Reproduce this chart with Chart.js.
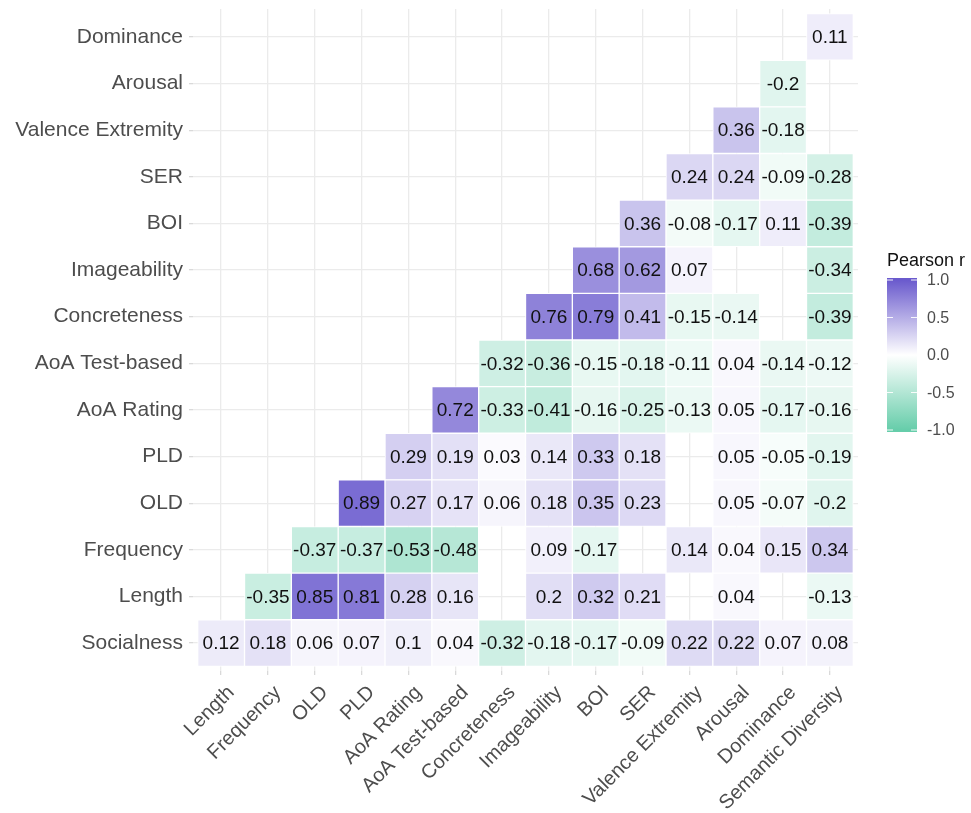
<!DOCTYPE html>
<html>
<head>
<meta charset="utf-8">
<script src="https://cdn.jsdelivr.net/npm/chart.js@4.4.0/dist/chart.umd.min.js"></script>
<style>
  html, body { margin: 0; padding: 0; background: #fff; }
</style>
</head>
<body>
<canvas id="corrChart" width="971" height="813"></canvas>
<script>
// ---- labels ----
const colLabels = ['Length', 'Frequency', 'OLD', 'PLD', 'AoA Rating', 'AoA Test-based', 'Concreteness',
  'Imageability', 'BOI', 'SER', 'Valence Extremity', 'Arousal', 'Dominance', 'Semantic Diversity'];
// bottom to top
const rowLabels = ['Socialness', 'Length', 'Frequency', 'OLD', 'PLD', 'AoA Rating', 'AoA Test-based',
  'Concreteness', 'Imageability', 'BOI', 'SER', 'Valence Extremity', 'Arousal', 'Dominance'];

// ---- correlations, one row each (null = blank cell) ----
const socialness   = [0.12, 0.18, 0.06, 0.07, 0.1, 0.04, -0.32, -0.18, -0.17, -0.09, 0.22, 0.22, 0.07, 0.08];
const lengthRow    = [null, -0.35, 0.85, 0.81, 0.28, 0.16, null, 0.2, 0.32, 0.21, null, 0.04, null, -0.13];
const frequency    = [null, null, -0.37, -0.37, -0.53, -0.48, null, 0.09, -0.17, null, 0.14, 0.04, 0.15, 0.34];
const old          = [null, null, null, 0.89, 0.27, 0.17, 0.06, 0.18, 0.35, 0.23, null, 0.05, -0.07, -0.2];
const pld          = [null, null, null, null, 0.29, 0.19, 0.03, 0.14, 0.33, 0.18, null, 0.05, -0.05, -0.19];
const aoaRating    = [null, null, null, null, null, 0.72, -0.33, -0.41, -0.16, -0.25, -0.13, 0.05, -0.17, -0.16];
const aoaTest      = [null, null, null, null, null, null, -0.32, -0.36, -0.15, -0.18, -0.11, 0.04, -0.14, -0.12];
const concreteness = [null, null, null, null, null, null, null, 0.76, 0.79, 0.41, -0.15, -0.14, null, -0.39];
const imageability = [null, null, null, null, null, null, null, null, 0.68, 0.62, 0.07, null, null, -0.34];
const boi          = [null, null, null, null, null, null, null, null, null, 0.36, -0.08, -0.17, 0.11, -0.39];
const ser          = [null, null, null, null, null, null, null, null, null, null, 0.24, 0.24, -0.09, -0.28];
const valence      = [null, null, null, null, null, null, null, null, null, null, null, 0.36, -0.18, null];
const arousal      = [null, null, null, null, null, null, null, null, null, null, null, null, -0.2, null];
const dominance    = [null, null, null, null, null, null, null, null, null, null, null, null, null, 0.11];

const rows = [socialness, lengthRow, frequency, old, pld, aoaRating, aoaTest,
  concreteness, imageability, boi, ser, valence, arousal, dominance];

const legendTicks = [1.0, 0.5, 0.0, -0.5, -1.0];

// ---- colours (white mid, slateblue high, aquamarine low) ----
const HIGH = [106, 90, 205];
const LOW = [102, 205, 170];
function fillFor(v) {
  const end = v >= 0 ? HIGH : LOW;
  const t = Math.min(Math.abs(v), 1);
  const c = end.map(e => Math.round(255 + (e - 255) * t));
  return 'rgb(' + c.join(',') + ')';
}

const FONT = '"Liberation Sans", Arial, Helvetica, sans-serif';
Chart.defaults.font.family = FONT;

// one dataset per row, floating bars one unit tall
const datasets = rows.map((vals, r) => {
  const pts = [];
  vals.forEach((v, c) => {
    if (v !== null) pts.push({ x: c, y: [r - 0.5, r + 0.5], v: v });
  });
  return {
    label: rowLabels[r],
    data: pts,
    backgroundColor: pts.map(p => fillFor(p.v)),
    borderColor: '#ffffff',
    borderWidth: 1,
    borderSkipped: false,
    grouped: false,
    barPercentage: 1,
    categoryPercentage: 1
  };
});

// value text in each tile
const cellText = {
  id: 'cellText',
  afterDatasetsDraw(chart) {
    const ctx = chart.ctx;
    ctx.save();
    ctx.font = '19px ' + FONT;
    ctx.fillStyle = '#111';
    ctx.textAlign = 'center';
    ctx.textBaseline = 'middle';
    chart.data.datasets.forEach((ds, i) => {
      chart.getDatasetMeta(i).data.forEach((bar, j) => {
        const p = bar.getCenterPoint();
        ctx.fillText(String(ds.data[j].v), p.x, p.y + 1);
      });
    });
    ctx.restore();
  }
};

// colourbar legend on the right
const colourBar = {
  id: 'colourBar',
  afterDraw(chart) {
    const ctx = chart.ctx;
    const area = chart.chartArea;
    const x0 = area.right + 29, w = 30;
    const top = 280, bottom = 430;
    ctx.save();
    ctx.font = '18px ' + FONT;
    ctx.fillStyle = '#111';
    ctx.textAlign = 'left';
    ctx.textBaseline = 'middle';
    ctx.fillText('Pearson r', x0, 261);

    const g = ctx.createLinearGradient(0, top, 0, bottom);
    g.addColorStop(0, fillFor(1));
    g.addColorStop(0.5, '#ffffff');
    g.addColorStop(1, fillFor(-1));
    ctx.fillStyle = g;
    ctx.fillRect(x0, top - 2, w, bottom - top + 4);

    ctx.font = '16px ' + FONT;
    legendTicks.forEach(t => {
      const y = top + (1 - t) / 2 * (bottom - top);
      ctx.strokeStyle = 'rgba(255,255,255,0.9)';
      ctx.lineWidth = 1;
      ctx.beginPath();
      ctx.moveTo(x0, y); ctx.lineTo(x0 + 6, y);
      ctx.moveTo(x0 + w - 6, y); ctx.lineTo(x0 + w, y);
      ctx.stroke();
      ctx.fillStyle = '#4d4d4d';
      ctx.fillText(t.toFixed(1), x0 + w + 10, y + 1);
    });
    ctx.restore();
  }
};

const intTicks = (labels) => (scale) => {
  scale.ticks = labels.map((_, i) => ({ value: i }));
};

new Chart(document.getElementById('corrChart'), {
  type: 'bar',
  data: { datasets: datasets },
  options: {
    responsive: false,
    animation: false,
    devicePixelRatio: 1,
    layout: { padding: { top: 9, right: 113, left: 0, bottom: 0 } },
    plugins: {
      legend: { display: false },
      tooltip: { enabled: false }
    },
    scales: {
      x: {
        type: 'linear',
        min: -0.6,
        max: 13.6,
        offset: false,
        afterBuildTicks: intTicks(colLabels),
        afterFit(scale) {
          scale.height = 142;
          scale.paddingLeft = 0;
          scale.paddingRight = 0;
        },
        border: { display: false },
        grid: { offset: false, color: '#ebebeb', lineWidth: 1.3, tickLength: 4, tickColor: '#d9d9d9' },
        ticks: {
          autoSkip: false,
          minRotation: 45,
          maxRotation: 45,
          padding: 6,
          labelOffset: 10,
          color: '#4d4d4d',
          font: { size: 20 },
          callback: (v) => colLabels[v]
        }
      },
      y: {
        type: 'linear',
        min: -0.6,
        max: 13.6,
        afterBuildTicks: intTicks(rowLabels),
        afterFit(scale) {
          scale.width = 193;
          scale.paddingTop = 0;
          scale.paddingBottom = 0;
        },
        border: { display: false },
        grid: { color: '#ebebeb', lineWidth: 1.3, tickLength: 4, tickColor: '#d9d9d9' },
        ticks: {
          autoSkip: false,
          padding: 6,
          color: '#4d4d4d',
          font: { size: 21 },
          callback: (v) => rowLabels[v]
        }
      }
    }
  },
  plugins: [cellText, colourBar]
});
</script>
</body>
</html>
